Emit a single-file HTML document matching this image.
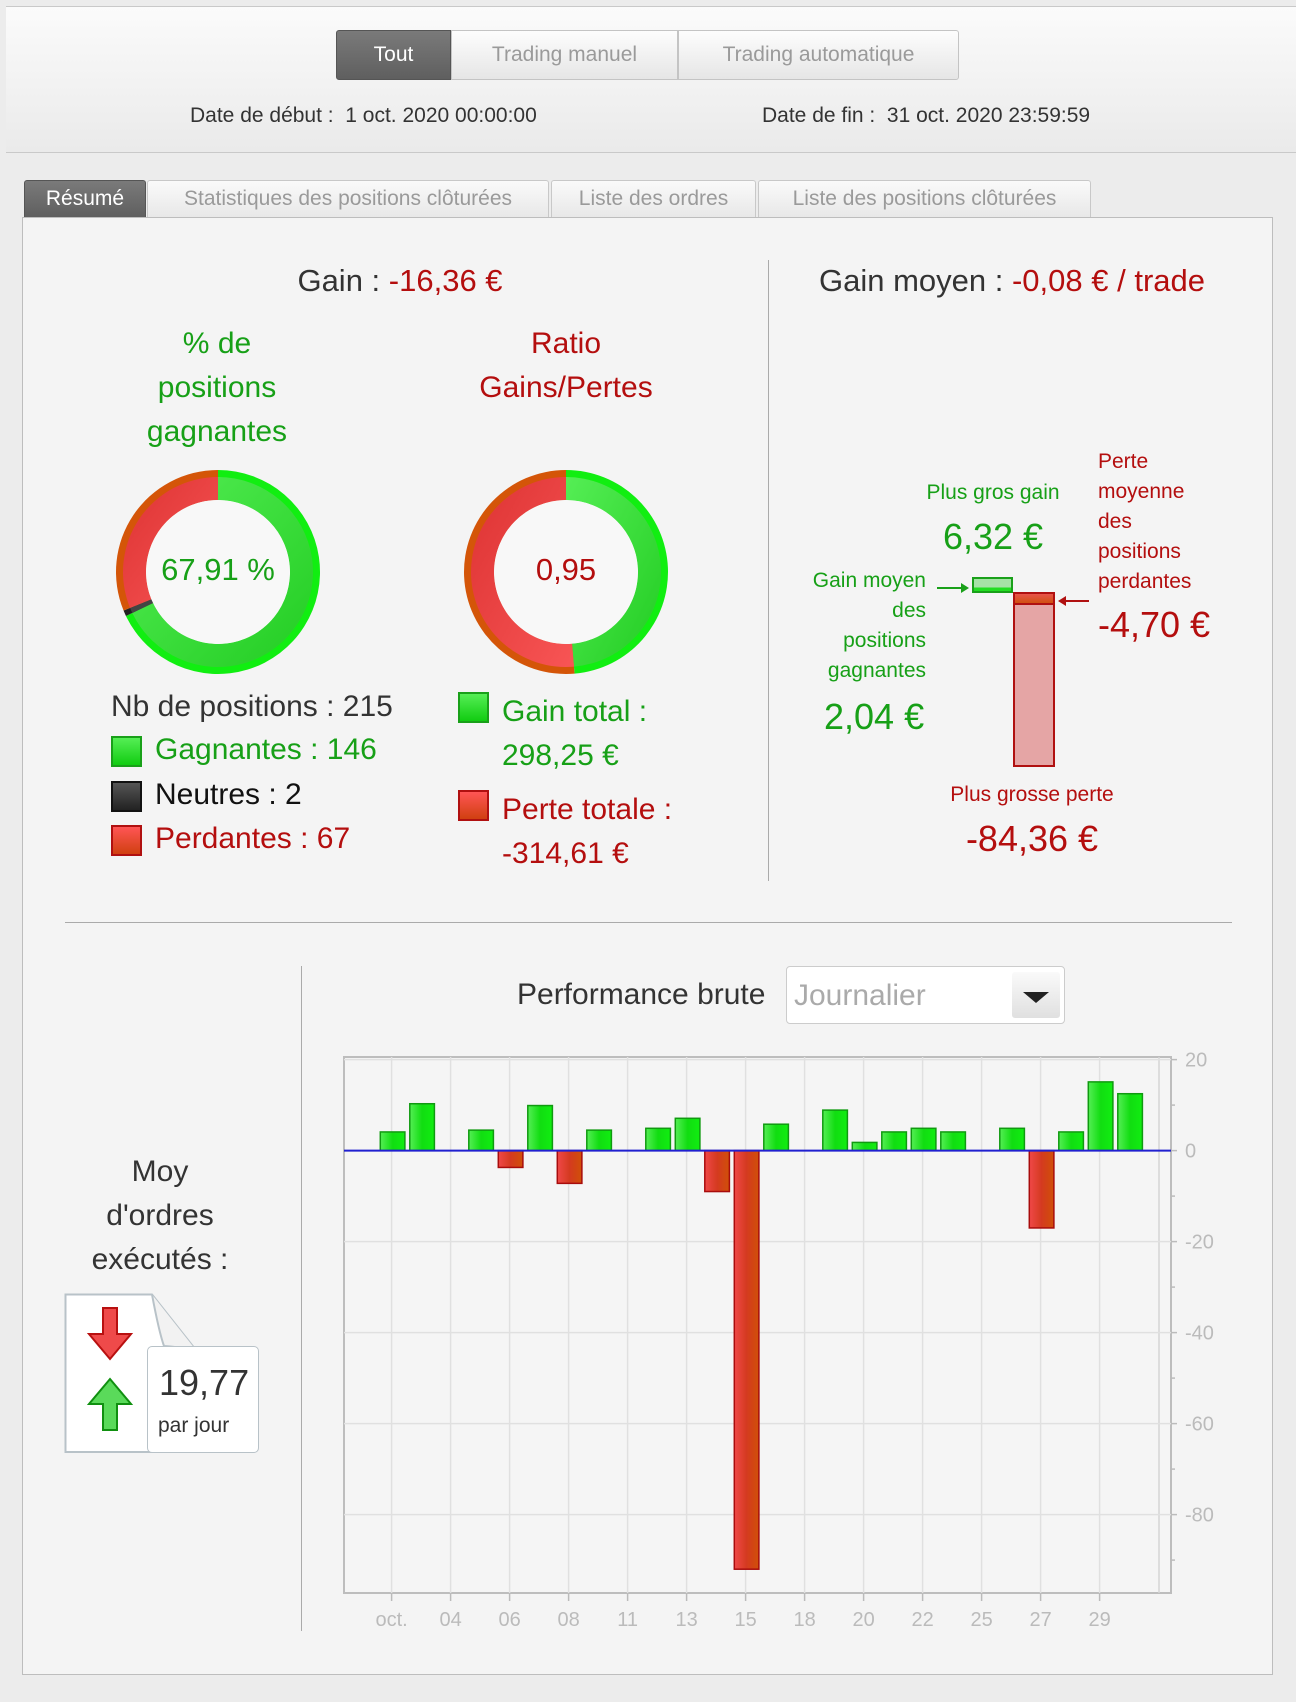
<!DOCTYPE html>
<html><head><meta charset="utf-8">
<style>
*{box-sizing:border-box;margin:0;padding:0}
body{width:1296px;height:1702px;background:#ececec;font-family:"Liberation Sans","DejaVu Sans",sans-serif;position:relative;overflow:hidden;color:#333}
.a{position:absolute;white-space:nowrap}
.g{color:#17a017}.r{color:#b40e0e}
.c{transform:translateX(-50%);text-align:center}
.btn{position:absolute;top:30px;height:50px;line-height:48px;text-align:center;font-size:21px;color:#9a9a9a;background:linear-gradient(#fdfdfd,#e6e6e6);border:1px solid #c4c4c4}
.tab{position:absolute;top:180px;height:37px;line-height:36px;text-align:center;font-size:21px;color:#9a9a9a;background:linear-gradient(#fafafa,#e8e8e8);border:1px solid #c8c8c8;border-bottom:none;border-radius:3px 3px 0 0}
.sq{position:absolute;width:31px;height:31px;border:2px solid}
</style></head><body>
<div class="a" style="left:6px;top:6px;width:1290px;height:147px;background:linear-gradient(#fbfbfb,#eaeaea);border-bottom:1px solid #c9c9c9;border-top:1px solid #c9c9c9"></div>
<div class="btn" style="left:336px;width:115px;background:linear-gradient(#7a7a7a,#5f5f5f);color:#fff;border-color:#555;border-radius:3px 0 0 3px">Tout</div>
<div class="btn" style="left:451px;width:227px">Trading manuel</div>
<div class="btn" style="left:678px;width:281px;border-radius:0 3px 3px 0">Trading automatique</div>
<div class="a" style="left:190px;top:104px;font-size:21px;color:#333">Date de début :&nbsp; 1 oct. 2020 00:00:00</div>
<div class="a" style="left:762px;top:104px;font-size:21px;color:#333">Date de fin :&nbsp; 31 oct. 2020 23:59:59</div>

<div class="tab" style="left:24px;width:122px;background:linear-gradient(#7a7a7a,#5f5f5f);color:#fff;border-color:#555">Résumé</div>
<div class="tab" style="left:147px;width:402px">Statistiques des positions clôturées</div>
<div class="tab" style="left:551px;width:205px">Liste des ordres</div>
<div class="tab" style="left:758px;width:333px">Liste des positions clôturées</div>

<div class="a" style="left:22px;top:217px;width:1251px;height:1458px;background:#f4f4f4;border:1px solid #bdbdbd"></div>

<div class="a c" style="left:400px;top:263px;font-size:31px">Gain : <span class="r">-16,36 €</span></div>
<div class="a" style="left:768px;top:260px;width:1px;height:621px;background:#aaa"></div>
<div class="a c" style="left:1012px;top:263px;font-size:31px">Gain moyen : <span class="r">-0,08 € / trade</span></div>

<div class="a c g" style="left:217px;top:322px;font-size:30px;line-height:44px">% de<br>positions<br>gagnantes</div>
<div class="a c r" style="left:566px;top:322px;font-size:30px;line-height:44px">Ratio<br>Gains/Pertes</div>

<svg class="a" style="left:0;top:0" width="1296" height="900">
<defs>
<linearGradient id="gg" x1="0" y1="0" x2="1" y2="1"><stop offset="0" stop-color="#55ee55"/><stop offset="1" stop-color="#22cc22"/></linearGradient>
<linearGradient id="rg" x1="0" y1="0" x2="1" y2="1"><stop offset="0" stop-color="#dd3333"/><stop offset="1" stop-color="#f85555"/></linearGradient>
</defs>
<g id="d1"></g><g id="d2"></g>
</svg>
<div class="a c g" style="left:218px;top:552px;font-size:31px">67,91 %</div>
<div class="a c r" style="left:566px;top:552px;font-size:31px">0,95</div>

<div class="a" style="left:111px;top:690px;font-size:30px">Nb de positions : 215</div>
<div class="sq" style="left:111px;top:736px;background:linear-gradient(#55ee55,#11cc11);border-color:#19a019"></div>
<div class="a g" style="left:155px;top:733px;font-size:30px">Gagnantes : 146</div>
<div class="sq" style="left:111px;top:781px;background:linear-gradient(#555,#222);border-color:#111"></div>
<div class="a" style="left:155px;top:778px;font-size:30px;color:#111">Neutres : 2</div>
<div class="sq" style="left:111px;top:825px;background:linear-gradient(#f55,#d04010);border-color:#b01010"></div>
<div class="a r" style="left:155px;top:822px;font-size:30px">Perdantes : 67</div>

<div class="sq" style="left:458px;top:692px;background:linear-gradient(#55ee55,#11cc11);border-color:#19a019"></div>
<div class="a g" style="left:502px;top:690px;font-size:30px;line-height:44px">Gain total :<br>298,25 €</div>
<div class="sq" style="left:458px;top:790px;background:linear-gradient(#f55,#d04010);border-color:#b01010"></div>
<div class="a r" style="left:502px;top:788px;font-size:30px;line-height:44px">Perte totale :<br>-314,61 €</div>

<div class="a c g" style="left:993px;top:481px;font-size:21px">Plus gros gain</div>
<div class="a c g" style="left:993px;top:516px;font-size:36px">6,32 €</div>
<div class="a r" style="left:1098px;top:447px;font-size:21px;line-height:30px">Perte<br>moyenne<br>des<br>positions<br>perdantes</div>
<div class="a r" style="left:1098px;top:604px;font-size:36px">-4,70 €</div>
<div class="a g" style="right:370px;top:566px;font-size:21px;line-height:30px;text-align:right">Gain moyen<br>des<br>positions<br>gagnantes</div>
<div class="a g" style="left:824px;top:696px;font-size:36px">2,04 €</div>
<div class="a" style="left:972px;top:577px;width:41px;height:16px;border:2px solid #19a019;background:linear-gradient(#a6e2a6 70%,#22dd22 70%)"></div>
<div class="a" style="left:1013px;top:592px;width:42px;height:175px;border:2px solid #b01010;background:linear-gradient(#e8534a 0,#d05010 9px,#b01010 9px,#b01010 11px,#e5a5a5 11px)"></div>
<div class="a" style="left:937px;top:587px;width:28px;height:2px;background:#19a019"></div>
<div class="a" style="left:961px;top:583px;border-left:8px solid #19a019;border-top:5px solid transparent;border-bottom:5px solid transparent"></div>
<div class="a" style="left:1063px;top:600px;width:26px;height:2px;background:#b01010"></div>
<div class="a" style="left:1058px;top:596px;border-right:8px solid #b01010;border-top:5px solid transparent;border-bottom:5px solid transparent"></div>
<div class="a c r" style="left:1032px;top:783px;font-size:21px">Plus grosse perte</div>
<div class="a c r" style="left:1032px;top:818px;font-size:36px">-84,36 €</div>

<div class="a" style="left:65px;top:922px;width:1167px;height:1px;background:#aaa"></div>
<div class="a" style="left:301px;top:966px;width:1px;height:665px;background:#aaa"></div>

<div class="a c" style="left:160px;top:1150px;font-size:30px;line-height:44px">Moy<br>d'ordres<br>exécutés :</div>
<svg class="a" style="left:64px;top:1292px" width="200" height="165">
<path d="M1.5,2.5 H88 L135,62 V160 H1.5 Z" fill="#fff" stroke="#b8c2c8" stroke-width="2"/>
<path d="M88,2.5 Q95,40 100,54 Q120,55 135,62" fill="#f2f2f2" stroke="#b8c2c8" stroke-width="2"/>
<path d="M39,16 H53 V42 H67 L46,67 L25,42 H39 Z" fill="#ef4a4a" stroke="#b81010" stroke-width="2"/>
<path d="M46,87 L67,112 H53 V138 H39 V112 H25 Z" fill="#5ada5a" stroke="#109010" stroke-width="2"/>
</svg>
<div class="a" style="left:147px;top:1346px;width:112px;height:107px;background:#fff;border:1.5px solid #b8c2c8;border-radius:5px"></div>
<div class="a" style="left:159px;top:1362px;font-size:36px;color:#333">19,77</div>
<div class="a" style="left:158px;top:1414px;font-size:21px;color:#333">par jour</div>

<div class="a" style="left:517px;top:978px;font-size:30px">Performance brute</div>
<div class="a" style="left:786px;top:966px;width:279px;height:58px;background:#fff;border:1px solid #ccc;border-radius:4px"></div>
<div class="a" style="left:794px;top:979px;font-size:30px;color:#aaa">Journalier</div>
<div class="a" style="left:1012px;top:972px;width:48px;height:46px;background:linear-gradient(#fafafa,#e0e0e0);border-radius:3px"></div>
<div class="a" style="left:1023px;top:992px;border-top:11px solid #222;border-left:13px solid transparent;border-right:13px solid transparent"></div>

<svg class="a" style="left:0;top:0" width="1296" height="1702" id="chart"></svg>

<script>
const categories=["oct.","02","04","05","06","07","08","09","11","12","13","14","15","16","18","19","20","21","22","23","25","26","27","28","29","30"];
const values=[4.1,10.3,0,4.5,-3.7,9.9,-7.2,4.5,0,4.9,7.1,-9.0,-92.0,5.8,0,8.9,1.8,4.1,4.9,4.1,0,4.9,-17.0,4.1,15.1,12.5];
const tickLabels=["20","0","-20","-40","-60","-80"];
const tickValues=[20,0,-20,-40,-60,-80];
const xTickLabels=["oct.","04","06","08","11","13","15","18","20","22","25","27","29"];
const NS="http://www.w3.org/2000/svg";
function el(p,t,a){const e=document.createElementNS(NS,t);for(const k in a)e.setAttribute(k,a[k]);p.appendChild(e);return e;}
function arc(cx,cy,R,r,a0,a1){const p=(a,rr)=>[cx+rr*Math.sin(a),cy-rr*Math.cos(a)];const L=(a1-a0)>Math.PI?1:0;
const [x0,y0]=p(a0,R),[x1,y1]=p(a1,R),[x2,y2]=p(a1,r),[x3,y3]=p(a0,r);
return `M${x0},${y0}A${R},${R} 0 ${L} 1 ${x1},${y1}L${x2},${y2}A${r},${r} 0 ${L} 0 ${x3},${y3}Z`;}
function donut(gid,cx,cy,parts){const g=document.getElementById(gid);let a=0;const T=parts.reduce((s,p)=>s+p.v,0);
parts.forEach(p=>{const b=a+p.v/T*2*Math.PI;
const o=el(g,'path',{d:arc(cx,cy,102,72,a,b),fill:p.o});

const i=el(g,'path',{d:arc(cx,cy,95,72,a,b),fill:p.i});
a=b;});
const c=el(g,'circle',{cx:cx,cy:cy,r:72,fill:'#f8f8f8'});}
donut('d1',218,572,[{v:146,o:'#11ee11',i:'url(#gg)'},{v:2,o:'#222',i:'#444'},{v:67,o:'#d45508',i:'url(#rg)'}]);
donut('d2',566,572,[{v:298.25,o:'#11ee11',i:'url(#gg)'},{v:314.61,o:'#d45508',i:'url(#rg)'}]);
const svg=document.getElementById('chart');
const PL=344,PR=1171,PT=1057,PB=1593,X0=392.6,DX=29.5,BW=24.6;
const y=v=>1150.6+(0-v)*4.55;
const x=i=>X0+i*DX;
const bg=el(svg,'rect',{x:PL,y:PT,width:PR-PL,height:PB-PT,fill:'#f5f5f5',stroke:'#bdbdbd','stroke-width':2});

el(svg,'line',{x1:1159,y1:PT,x2:1159,y2:PB,stroke:'#d5d5d5','stroke-width':1.5});
tickValues.forEach((v,k)=>{const gl=el(svg,'line',{x1:PL,x2:PR,y1:y(v),y2:y(v),stroke:'#e0e0e0','stroke-width':1.5});

el(svg,'line',{x1:PR,x2:PR+6,y1:y(v),y2:y(v),stroke:'#bbb','stroke-width':1.5});
el(svg,'line',{x1:PR,x2:PR+4,y1:y(v-10),y2:y(v-10),stroke:'#bbb','stroke-width':1.5});
const t=el(svg,'text',{x:PR+14,y:y(v)+7,'font-size':20,fill:'#bbb','font-family':'Liberation Sans'});t.textContent=tickLabels[k];
});
xTickLabels.forEach((l,k)=>{const xx=x(k*2)-1;
const gl=el(svg,'line',{x1:xx,x2:xx,y1:PT,y2:PB,stroke:'#e0e0e0','stroke-width':1.5});

el(svg,'line',{x1:xx,x2:xx,y1:PB,y2:PB+8,stroke:'#bbb','stroke-width':1.5});
const t=el(svg,'text',{x:xx,y:1626,'font-size':20,fill:'#bbb','text-anchor':'middle','font-family':'Liberation Sans'});t.textContent=l;
});
const defs=el(svg,'defs',{});
const gG=el(defs,'linearGradient',{id:'bg1',x1:0,x2:1,y1:0,y2:0});el(gG,'stop',{offset:0,'stop-color':'#55ee55'});el(gG,'stop',{offset:0.5,'stop-color':'#11dd11'});el(gG,'stop',{offset:1,'stop-color':'#11ee11'});
const gR=el(defs,'linearGradient',{id:'br1',x1:0,x2:1,y1:0,y2:0});el(gR,'stop',{offset:0,'stop-color':'#f04848'});el(gR,'stop',{offset:0.5,'stop-color':'#d43a20'});el(gR,'stop',{offset:1,'stop-color':'#d05008'});
values.forEach((v,i)=>{if(v===0)return;const pos=v>0;const b=el(svg,'rect',{x:x(i)-BW/2,y:pos?y(v):y(0),width:BW,height:Math.abs(y(v)-y(0)),fill:pos?'url(#bg1)':'url(#br1)',stroke:pos?'#109a10':'#a80c0c','stroke-width':1.5});

});
const z=el(svg,'line',{x1:PL,x2:PR,y1:y(0),y2:y(0),stroke:'#2020d0','stroke-width':2});

</script>
</body></html>
